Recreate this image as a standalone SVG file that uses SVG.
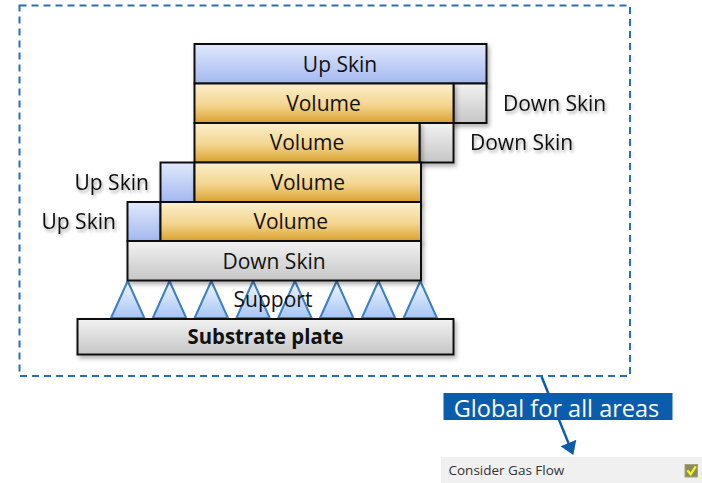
<svg xmlns="http://www.w3.org/2000/svg" width="702" height="483" viewBox="0 0 702 483">
<defs>
<linearGradient id="gBlue" x1="0" y1="0" x2="0" y2="1"><stop offset="0" stop-color="#e2e9fc"/><stop offset="1" stop-color="#a3b8f0"/></linearGradient>
<linearGradient id="gGold" x1="0" y1="0" x2="0" y2="1"><stop offset="0" stop-color="#fcf0cc"/><stop offset="0.55" stop-color="#f3d58f"/><stop offset="1" stop-color="#d9a22e"/></linearGradient>
<linearGradient id="gGray" x1="0" y1="0" x2="0" y2="1"><stop offset="0" stop-color="#f2f2f2"/><stop offset="1" stop-color="#c6c6c6"/></linearGradient>
<linearGradient id="gTri" x1="0" y1="0" x2="0" y2="1"><stop offset="0" stop-color="#f2f6ff"/><stop offset="1" stop-color="#a6c6f4"/></linearGradient>
<filter id="sh" x="-10%" y="-20%" width="130%" height="160%"><feDropShadow dx="2" dy="3" stdDeviation="2" flood-color="#000" flood-opacity="0.3"/></filter>
<filter id="tsh" x="-10%" y="-30%" width="130%" height="180%"><feDropShadow dx="1.5" dy="2.5" stdDeviation="1.5" flood-color="#000" flood-opacity="0.35"/></filter>
<marker id="ah" markerUnits="userSpaceOnUse" markerWidth="14" markerHeight="18" refX="5" refY="8.5" orient="auto"><path d="M0,0 L13,8.5 L0,17 z" fill="#0B5CAD"/></marker>
<style>
.box{stroke:#111;stroke-width:2}
.blue{fill:url(#gBlue)}
.gold{fill:url(#gGold)}
.gray{fill:url(#gGray)}
.t{font-family:"Open Sans","Liberation Sans",sans-serif;font-size:21px;fill:#111;text-anchor:middle}
.lbl{font-family:"Open Sans","Liberation Sans",sans-serif;font-size:21px;fill:#111;filter:url(#tsh)}
.tri{fill:url(#gTri);stroke:#3d7fc3;stroke-width:2}
</style>
</defs>

<g id="area">
<rect x="19.5" y="5.5" width="610.5" height="370.5" fill="none" stroke="#2a6ebb" stroke-width="2" stroke-dasharray="7 5"/>
</g>

<g id="support">
<g class="tri">
<polygon points="111,318 127.7,281 144.4,318"/>
<polygon points="152.8,318 169.5,281 186.2,318"/>
<polygon points="194.6,318 211.3,281 228,318"/>
<polygon points="236.4,318 253.1,281 269.8,318"/>
<polygon points="278.2,318 294.9,281 311.6,318"/>
<polygon points="320,318 336.7,281 353.4,318"/>
<polygon points="361.8,318 378.5,281 395.2,318"/>
<polygon points="403.6,318 420.3,281 437,318"/>
</g>
</g>

<g id="upskin-top">
<rect class="box blue" x="194.5" y="44" width="292" height="39.5" filter="url(#sh)"/>
<text class="t" x="340" y="72">Up Skin</text>
</g>

<g id="row1">
<rect class="box gray" x="453.5" y="83.5" width="33" height="39.5" filter="url(#sh)"/>
<rect class="box gold" x="194.5" y="83.5" width="259" height="39.5" filter="url(#sh)"/>
<text class="t" x="323.5" y="111">Volume</text>
<text class="lbl" x="503" y="111">Down Skin</text>
</g>

<g id="row2">
<rect class="box gray" x="419.5" y="123" width="34" height="39.5" filter="url(#sh)"/>
<rect class="box gold" x="194.5" y="123" width="225" height="39.5" filter="url(#sh)"/>
<text class="t" x="307" y="150">Volume</text>
<text class="lbl" x="470" y="150">Down Skin</text>
</g>

<g id="row3">
<rect class="box blue" x="160.5" y="162.5" width="34" height="39.5" filter="url(#sh)"/>
<rect class="box gold" x="194.5" y="162.5" width="226.5" height="39.5" filter="url(#sh)"/>
<text class="t" x="307.7" y="190">Volume</text>
<text class="lbl" x="74.5" y="190">Up Skin</text>
</g>

<g id="row4">
<rect class="box blue" x="127.5" y="202" width="33" height="39" filter="url(#sh)"/>
<rect class="box gold" x="160.5" y="202" width="260.5" height="39" filter="url(#sh)"/>
<text class="t" x="290.7" y="228.5">Volume</text>
<text class="lbl" x="41.5" y="229">Up Skin</text>
</g>

<g id="downskin">
<rect class="box gray" x="127.5" y="241" width="293.5" height="39.5" filter="url(#sh)"/>
<text class="t" x="274" y="268.5">Down Skin</text>
</g>

<g id="support-label">
<text class="t" x="273" y="306.5">Support</text>
</g>

<g id="substrate">
<rect class="box gray" x="77.5" y="319" width="376" height="35.5" filter="url(#sh)"/>
<text class="t" x="265.5" y="343.5" font-weight="bold" textLength="156" lengthAdjust="spacingAndGlyphs">Substrate plate</text>
</g>

<g id="connectors">
<line x1="541.7" y1="377" x2="570.3" y2="447.6" stroke="#0B5CAD" stroke-width="2.5" marker-end="url(#ah)"/>
</g>

<g id="global-label">
<rect x="443.5" y="393" width="229" height="27" fill="#0B5CAD"/>
<text x="556.5" y="417" font-family="Open Sans, Liberation Sans, sans-serif" font-size="23.5" fill="#fff" text-anchor="middle">Global for all areas</text>
</g>

<g id="gasflow">
<rect x="441" y="457" width="261" height="26" fill="#f0f0f0"/>
<text x="448.5" y="475" font-family="Open Sans, Liberation Sans, sans-serif" font-size="13.5" fill="#333">Consider Gas Flow</text>
<rect x="685" y="464.5" width="12.5" height="12.5" fill="#8b8b5e" stroke="#a5a57a" stroke-width="1"/>
<polyline points="687.3,470.3 690.6,474.3 695.8,466.3" fill="none" stroke="#f4f42a" stroke-width="2.2"/>
</g>
</svg>
